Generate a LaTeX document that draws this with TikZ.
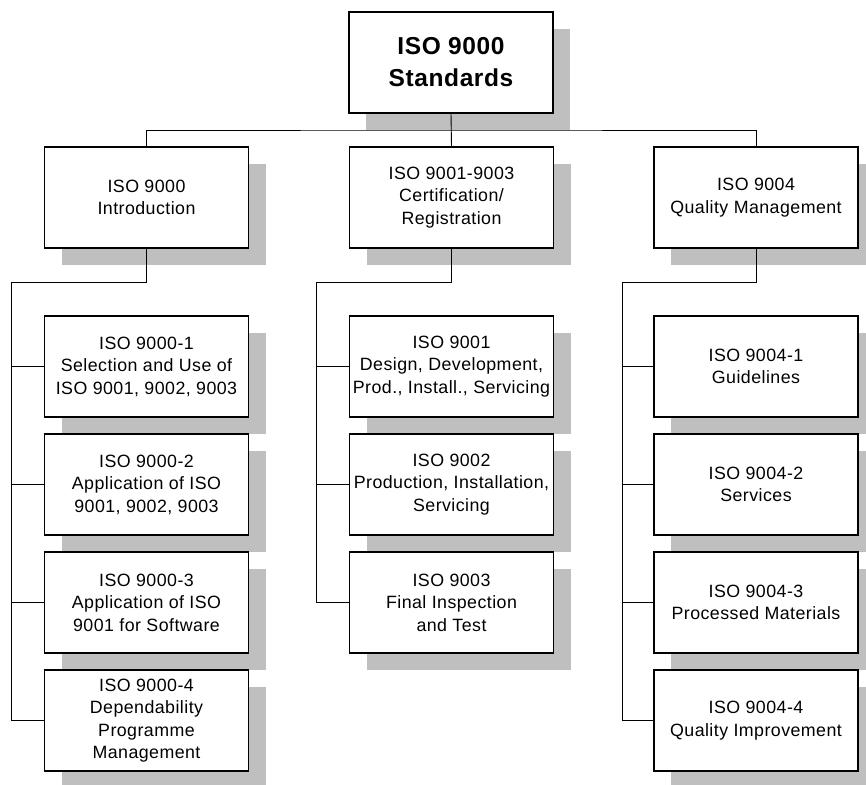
\documentclass[tikz,border=0pt]{standalone}
\usepackage{fontspec}
\setmainfont[LetterSpace=2.5]{Liberation Sans}
\usetikzlibrary{shadows}

\begin{document}
\begin{tikzpicture}[x=1pt, y=-1pt,
  box/.style={draw, rectangle, fill=white, line width=1.4pt, align=center,
    minimum width=204pt, minimum height=101pt, inner sep=2pt,
    font=\fontsize{17.8}{22.5}\selectfont,
    drop shadow={shadow xshift=17pt, shadow yshift=-17pt, fill=black!25, opacity=1}},
  link/.style={line width=0.9pt}]
\useasboundingbox (0,0) rectangle (866,784);

% top level
\node[box, font=\bfseries\fontsize{24.5}{32}\selectfont] (iso) at (451,62.5) {ISO 9000\\Standards};

% second level
\node[box] (intro) at (146.5,197.5) {ISO 9000\\Introduction};
\node[box] (cert) at (451.5,197.5) {ISO 9001-9003\\Certification/\\Registration};
\node[box] (qm) at (756,197.5) {ISO 9004\\Quality Management};

% ISO 9000 parts
\node[box] (a1) at (146.5,366.5) {ISO 9000-1\\Selection and Use of\\ISO 9001, 9002, 9003};
\node[box] (a2) at (146.5,484.5) {ISO 9000-2\\Application of ISO\\9001, 9002, 9003};
\node[box] (a3) at (146.5,602.5) {ISO 9000-3\\Application of ISO\\9001 for Software};
\node[box] (a4) at (146.5,720.5) {ISO 9000-4\\Dependability\\Programme\\Management};

% ISO 9001-9003
\node[box] (c1) at (451.5,366.5) {ISO 9001\\Design, Development,\\Prod., Install., Servicing};
\node[box] (c2) at (451.5,484.5) {ISO 9002\\Production, Installation,\\Servicing};
\node[box] (c3) at (451.5,602.5) {ISO 9003\\Final Inspection\\and Test};

% ISO 9004 parts
\node[box] (q1) at (756,366.5) {ISO 9004-1\\Guidelines};
\node[box] (q2) at (756,484.5) {ISO 9004-2\\Services};
\node[box] (q3) at (756,602.5) {ISO 9004-3\\Processed Materials};
\node[box] (q4) at (756,720.5) {ISO 9004-4\\Quality Improvement};

% connectors
\coordinate (bus) at (451.5,130);
\coordinate (aturn) at (11,282);
\coordinate (cturn) at (316,282);
\coordinate (qturn) at (622,282);

\draw[link] (iso.south) -- (cert.north);
\draw[link] (intro.north) |- (bus) -| (qm.north);

\draw[link] (intro.south) |- (aturn) |- (a4.west);
\foreach \n in {a1,a2,a3}
  \draw[link] (aturn |- \n.west) -- (\n.west);

\draw[link] (cert.south) |- (cturn) |- (c3.west);
\foreach \n in {c1,c2}
  \draw[link] (cturn |- \n.west) -- (\n.west);

\draw[link] (qm.south) |- (qturn) |- (q4.west);
\foreach \n in {q1,q2,q3}
  \draw[link] (qturn |- \n.west) -- (\n.west);
\end{tikzpicture}
\end{document}
